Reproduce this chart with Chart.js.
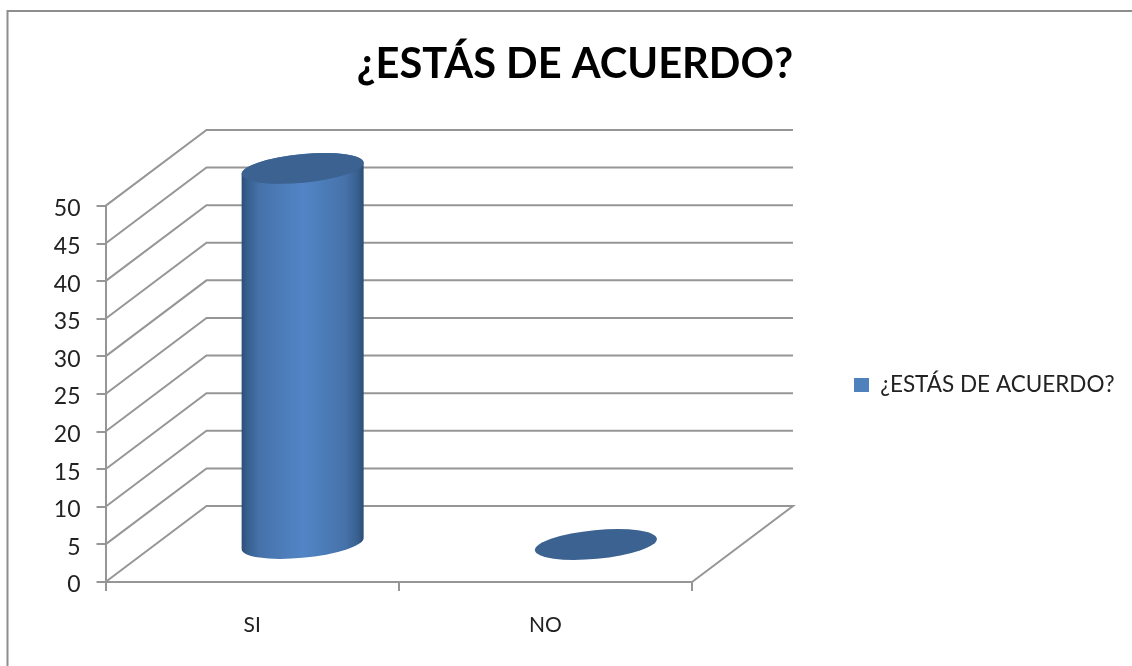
<!DOCTYPE html>
<html>
<head>
<meta charset="utf-8">
<script src="https://cdn.jsdelivr.net/npm/chart.js@4"></script>
<style>
  html, body { margin: 0; background: #fff; overflow: hidden; }
  #wrap { width: 1132px; height: 666px; }
  canvas { filter: blur(0.45px); }
</style>
</head>
<body>
<div id="wrap"><canvas id="chart"></canvas></div>
<script>
const chartTitle = "¿ESTÁS DE ACUERDO?";
const categories = ["SI", "NO"];
const seriesValues = [50, 0];
const yTicks = [0, 5, 10, 15, 20, 25, 30, 35, 40, 45, 50];

const lineGray = "#969696";
const textColor = "#222222";
const uiFont = "Lato, 'Open Sans', sans-serif";

// how far the back wall sits from the front of the 3D box
const depthX = 101;
const depthY = -76;

// frame + the 3D walls behind the bars
const wallsPlugin = {
  id: "walls",
  beforeDraw(chart) {
    const ctx = chart.ctx;
    ctx.save();
    ctx.strokeStyle = "#8e8e8e";
    ctx.lineWidth = 2;
    ctx.beginPath();
    ctx.moveTo(7.5, 666);
    ctx.lineTo(7.5, 11);
    ctx.lineTo(1132, 11);
    ctx.stroke();
    ctx.restore();
  },
  beforeDatasetsDraw(chart) {
    const { ctx, chartArea: area, scales } = chart;
    ctx.save();
    ctx.strokeStyle = lineGray;
    ctx.lineWidth = 2;
    yTicks.forEach(t => {
      const py = scales.y.getPixelForValue(t);
      ctx.beginPath();
      ctx.moveTo(area.left, py);
      ctx.lineTo(area.left + depthX, py + depthY);
      ctx.lineTo(area.right + depthX, py + depthY);
      if (t === 0) ctx.lineTo(area.right, py);
      ctx.stroke();
    });
    ctx.restore();
  }
};

// bars are drawn as cylinders standing in the middle of the box depth
const cylinderPlugin = {
  id: "cylinder",
  beforeDatasetDraw(chart, args) {
    const ctx = chart.ctx;
    const tilt = -5.5 * Math.PI / 180;
    args.meta.data.forEach(bar => {
      const cx = bar.x + depthX / 2;
      const topY = bar.y + depthY / 2 + 0.5;
      const baseY = bar.base + depthY / 2 + 0.5;
      const rx = bar.width / 2 * 1.007;
      const ry = 14.3;
      const t0 = Math.atan2(-ry * Math.sin(tilt), rx * Math.cos(tilt));

      ctx.save();
      if (baseY - topY > 1) {
        const grad = ctx.createLinearGradient(cx - rx, 0, cx + rx, 0);
        grad.addColorStop(0, "#2d4e76");
        grad.addColorStop(0.05, "#37608f");
        grad.addColorStop(0.15, "#4672aa");
        grad.addColorStop(0.5, "#5285c6");
        grad.addColorStop(0.85, "#4672aa");
        grad.addColorStop(0.95, "#37608f");
        grad.addColorStop(1, "#2c4c72");
        ctx.fillStyle = grad;
        ctx.beginPath();
        ctx.ellipse(cx, topY, rx, ry, tilt, t0, t0 + Math.PI, true);
        ctx.ellipse(cx, baseY, rx, ry, tilt, t0 + Math.PI, t0, true);
        ctx.closePath();
        ctx.fill();
      }
      ctx.fillStyle = "#3b6290";
      ctx.beginPath();
      ctx.ellipse(cx, topY, rx, ry, tilt, 0, Math.PI * 2);
      ctx.fill();
      ctx.restore();
    });
    return false;
  }
};

// legend and title do not sit where the auto layout puts them
const placePlugin = {
  id: "place",
  afterLayout(chart) {
    const lg = chart.legend;
    const h = lg.bottom - lg.top;
    lg.left = 845;
    lg.right = 1132;
    lg.top = 385 - h / 2;
    lg.bottom = lg.top + h;
    chart.titleBlock.left = 0;
    chart.titleBlock.right = 1150;
  }
};

new Chart(document.getElementById("chart"), {
  type: "bar",
  data: {
    labels: categories,
    datasets: [{
      label: chartTitle,
      data: seriesValues,
      backgroundColor: "#4f81bd",
      borderWidth: 0,
      barPercentage: 0.415,
      categoryPercentage: 1
    }]
  },
  plugins: [wallsPlugin, cylinderPlugin, placePlugin],
  options: {
    responsive: true,
    maintainAspectRatio: false,
    animation: false,
    events: [],
    layout: { padding: { left: 0, top: 0, bottom: 0, right: 240 } },
    plugins: {
      title: {
        display: true,
        text: chartTitle,
        color: "#000000",
        font: { family: uiFont, size: 41.6, weight: "bold", lineHeight: 1.2 },
        padding: { top: 39.5, bottom: 116.5 }
      },
      legend: {
        position: "right",
        maxWidth: 200,
        labels: {
          color: textColor,
          font: { family: uiFont, size: 22.5 },
          boxWidth: 15,
          boxHeight: 14,
          padding: 9
        }
      },
      tooltip: { enabled: false }
    },
    scales: {
      x: {
        afterFit(scale) { scale.height = 84; },
        border: { color: lineGray, width: 2 },
        grid: { color: lineGray, lineWidth: 2, tickLength: 9, drawOnChartArea: false, offset: true },
        ticks: { color: textColor, font: { family: uiFont, size: 21 }, padding: 22, maxRotation: 0 }
      },
      y: {
        min: 0,
        max: 50,
        afterFit(scale) { scale.width = 105.5; },
        afterBuildTicks(scale) { scale.ticks = yTicks.map(v => ({ value: v })); },
        border: { color: lineGray, width: 2 },
        grid: { color: lineGray, lineWidth: 2, tickLength: 9, drawOnChartArea: false },
        ticks: { color: textColor, font: { family: uiFont, size: 23 }, padding: 16, labelOffset: 3 }
      }
    }
  }
});
</script>
</body>
</html>
